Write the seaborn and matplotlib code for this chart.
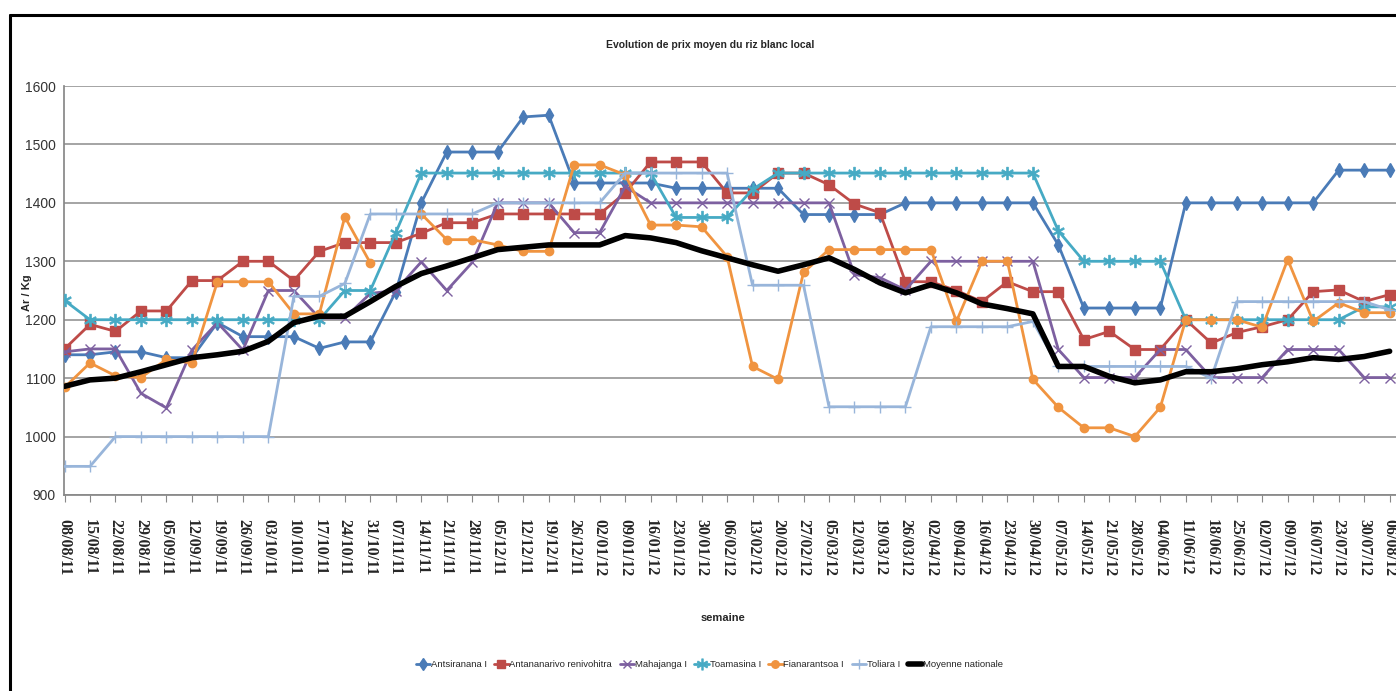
import numpy as np
import pandas as pd
import matplotlib
matplotlib.use("Agg")
import matplotlib.pyplot as plt
from matplotlib.lines import Line2D
from matplotlib import font_manager as fm
import seaborn as sns

# ---------------- data ----------------
weeks = ["08/08/11", "15/08/11", "22/08/11", "29/08/11", "05/09/11", "12/09/11", "19/09/11",
         "26/09/11", "03/10/11", "10/10/11", "17/10/11", "24/10/11", "31/10/11", "07/11/11",
         "14/11/11", "21/11/11", "28/11/11", "05/12/11", "12/12/11", "19/12/11", "26/12/11",
         "02/01/12", "09/01/12", "16/01/12", "23/01/12", "30/01/12", "06/02/12", "13/02/12",
         "20/02/12", "27/02/12", "05/03/12", "12/03/12", "19/03/12", "26/03/12", "02/04/12",
         "09/04/12", "16/04/12", "23/04/12", "30/04/12", "07/05/12", "14/05/12", "21/05/12",
         "28/05/12", "04/06/12", "11/06/12", "18/06/12", "25/06/12", "02/07/12", "09/07/12",
         "16/07/12", "23/07/12", "30/07/12", "06/08/12"]

antsiranana = [1140, 1140, 1145, 1145, 1135, 1135, 1195, 1171, 1171, 1171, 1151, 1162, 1162,
               1248, 1400, 1487, 1487, 1487, 1547, 1550, 1434, 1434, 1434, 1434, 1425, 1425,
               1425, 1425, 1425, 1380, 1380, 1380, 1380, 1400, 1400, 1400, 1400, 1400, 1400,
               1328, 1220, 1220, 1220, 1220, 1400, 1400, 1400, 1400, 1400, 1400, 1456, 1456,
               1456]
antananarivo = [1150, 1192, 1180, 1215, 1215, 1267, 1267, 1300, 1300, 1267, 1317, 1332, 1332,
                1332, 1348, 1366, 1366, 1381, 1381, 1381, 1381, 1381, 1417, 1470, 1470, 1470,
                1417, 1417, 1451, 1451, 1431, 1398, 1383, 1265, 1265, 1250, 1231, 1265, 1248,
                1248, 1166, 1180, 1149, 1149, 1200, 1160, 1178, 1188, 1200, 1248, 1251, 1231,
                1243]
mahajanga = [1145, 1150, 1150, 1074, 1049, 1148, 1195, 1148, 1250, 1250, 1203, 1203, 1245,
             1250, 1299, 1250, 1298, 1400, 1400, 1400, 1349, 1349, 1428, 1400, 1400, 1400,
             1400, 1400, 1400, 1400, 1400, 1277, 1272, 1251, 1300, 1300, 1300, 1300, 1300,
             1149, 1101, 1101, 1101, 1149, 1149, 1101, 1101, 1101, 1149, 1149, 1149, 1101,
             1101]
toamasina = [1233, 1200, 1200, 1200, 1200, 1200, 1200, 1200, 1200, 1200, 1200, 1250, 1250,
             1349, 1451, 1451, 1451, 1451, 1451, 1451, 1451, 1451, 1451, 1451, 1375, 1375,
             1375, 1423, 1451, 1451, 1451, 1451, 1451, 1451, 1451, 1451, 1451, 1451, 1451,
             1352, 1300, 1300, 1300, 1300, 1200, 1200, 1200, 1200, 1200, 1200, 1200, 1222,
             1222]
fianarantsoa = [1084, 1126, 1104, 1101, 1132, 1126, 1265, 1265, 1265, 1210, 1210, 1376, 1297,
                np.nan, 1381, 1337, 1337, 1328, 1317, 1317, 1465, 1465, 1448, 1362, 1362, 1359,
                1308, 1120, 1098, 1281, 1320, 1320, 1320, 1320, 1320, 1197, 1300, 1300, 1098,
                1050, 1015, 1015, 1000, 1050, 1200, 1200, 1200, 1187, 1303, 1197, 1229, 1212,
                1212]
toliara = [949, 949, 1000, 1000, 1000, 1000, 1000, 1000, 1000, 1240, 1240, 1262, 1381, 1381,
           1381, 1381, 1381, 1400, 1400, 1400, 1400, 1400, 1451, 1451, 1451, 1451, 1451, 1259,
           1259, 1259, 1051, 1051, 1051, 1051, 1188, 1188, 1188, 1188, 1197, 1120, 1120, 1120,
           1120, 1120, 1120, 1100, 1231, 1231, 1231, 1231, 1231, 1231, 1217]
moyenne = [1086, 1097, 1100, 1111, 1123, 1135, 1140, 1146, 1163, 1195, 1206, 1206, 1231,
           1257, 1279, 1292, 1306, 1320, 1324, 1328, 1328, 1328, 1344, 1340, 1332, 1318, 1306,
           1294, 1283, 1294, 1306, 1286, 1263, 1246, 1260, 1246, 1227, 1219, 1210, 1120, 1120,
           1103, 1092, 1097, 1111, 1111, 1116, 1123, 1128, 1135, 1132, 1137, 1146]

series_names = ["Antsiranana I", "Antananarivo renivohitra", "Mahajanga I", "Toamasina I",
                "Fianarantsoa I", "Toliara I", "Moyenne nationale"]
series_values = [antsiranana, antananarivo, mahajanga, toamasina, fianarantsoa, toliara, moyenne]
y_ticks = [900, 1000, 1100, 1200, 1300, 1400, 1500, 1600]

# ---------------- styles ----------------
styles = {
    "Antsiranana I": dict(color="#4A7BB7", marker="d", ms=7, lw=2.0, mew=1),
    "Antananarivo renivohitra": dict(color="#BE4B48", marker="s", ms=7, lw=2.0, mew=1),
    "Mahajanga I": dict(color="#7D60A0", marker="x", ms=7, lw=2.0, mew=1),
    "Toamasina I": dict(color="#46AAC4", marker="$\u2217$", ms=9, lw=2.0, mew=0.6),
    "Fianarantsoa I": dict(color="#F09440", marker="o", ms=6, lw=2.0, mew=1),
    "Toliara I": dict(color="#98B5DA", marker="+", ms=8, lw=2.0, mew=1),
    "Moyenne nationale": dict(color="#000000", marker=None, ms=0, lw=4.0, mew=0),
}

avail = {f.name for f in fm.fontManager.ttflist}
narrow = "Liberation Sans Narrow" if "Liberation Sans Narrow" in avail else "Liberation Sans"

sns.set_theme(style="white")
plt.rcParams["font.family"] = ["DejaVu Sans"]

fig = plt.figure(figsize=(13.96, 6.91), dpi=100)
ax = fig.add_axes([64 / 1396, (691 - 495) / 691, (1396 - 64) / 1396, (495 - 86) / 691])

x_idx = np.arange(len(weeks))
for name, vals in zip(series_names, series_values):
    st = styles[name]
    df = pd.DataFrame({"x": x_idx, "y": np.asarray(vals, dtype=float)})
    df["run"] = df["y"].isna().cumsum()
    df = df.dropna()
    for _, seg in df.groupby("run"):
        sns.lineplot(data=seg, x="x", y="y", ax=ax, color=st["color"], lw=st["lw"],
                     marker=st["marker"], markersize=st["ms"], markeredgewidth=st["mew"],
                     markeredgecolor=st["color"], estimator=None, sort=False,
                     zorder=5 if name == "Moyenne nationale" else 3)

ax.set_xlim(-0.02, 52.25)
ax.set_ylim(900, 1600)
ax.set_yticks(y_ticks)
ax.set_yticklabels([str(v) for v in y_ticks], fontsize=10, family=[narrow, "DejaVu Sans"],
                   color="#333333")
ax.set_xticks(x_idx)
ax.set_xticklabels(weeks, rotation=-90, fontsize=11.5, fontweight="bold",
                   family=["Liberation Serif", "DejaVu Serif"], va="top", ha="center")
ax.tick_params(axis="x", length=5, width=0.8, color="#888888", pad=12, direction="out",
               bottom=True)
ax.tick_params(axis="y", length=0, pad=6)
ax.grid(axis="y", color="#8C8C8C", lw=1.1)
ax.grid(axis="x", visible=False)
for s in ["top", "right"]:
    ax.spines[s].set_visible(False)
ax.spines["left"].set_color("#888888")
ax.spines["bottom"].set_color("#888888")
ax.set_xlabel("")
ax.set_ylabel("")

fig.text(0.509, 0.935, "Evolution de prix moyen du riz blanc local", ha="center", va="center",
         fontsize=7.5, fontweight="bold", family=[narrow, "DejaVu Sans"])
fig.text(0.518, 0.106, "semaine", ha="center", va="center", fontsize=8, fontweight="bold",
         family=[narrow, "DejaVu Sans"])
fig.text(0.019, 0.577, "Ar / Kg", ha="center", va="center", rotation=90, fontsize=8,
         fontweight="bold", family=[narrow, "DejaVu Sans"])

handles = []
for name in series_names:
    st = styles[name]
    handles.append(Line2D([0], [0], color=st["color"], lw=st["lw"], marker=st["marker"],
                          markersize=st["ms"] * 0.9, markeredgewidth=st["mew"]))
fig.legend(handles, series_names, loc="center", bbox_to_anchor=(0.508, 0.038), ncol=7,
           frameon=False, handlelength=1.5, handletextpad=0.1, columnspacing=0.8,
           prop={"family": [narrow, "DejaVu Sans"], "size": 6.8})

# frame of the screenshot
fig.add_artist(Line2D([10 / 1396, 10 / 1396], [0, 1 - 15 / 691], transform=fig.transFigure,
                      color="black", lw=2.2))
fig.add_artist(Line2D([10 / 1396, 1], [1 - 15 / 691, 1 - 15 / 691], transform=fig.transFigure,
                      color="black", lw=2.2))

fig.savefig("out.png", dpi=100)
